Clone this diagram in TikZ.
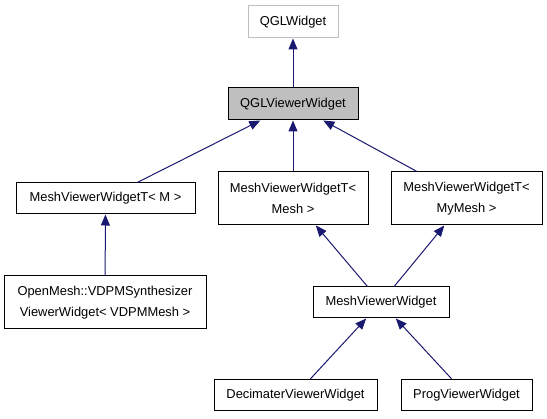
\documentclass[tikz,border=0pt]{standalone}
\usepackage{fontspec}
\setmainfont{Liberation Sans}
\usetikzlibrary{arrows.meta}
\definecolor{edgeblue}{HTML}{191970}
\definecolor{boxgray}{HTML}{BFBFBF}
\tikzset{
  cls/.style={draw=black, fill=white, line width=1pt, inner sep=0pt, align=center,
    font=\fontsize{12.9}{21}\selectfont},
  edge/.style={draw=edgeblue, line width=1pt, -{Triangle[length=11pt,width=9pt]}},
}
\begin{document}
\begin{tikzpicture}[x=1pt,y=-1pt]
\useasboundingbox (0,0) rectangle (547,419);
\node[cls, draw=boxgray, minimum width=90pt, minimum height=32pt] (qgl) at (293,22) {QGLWidget};
\node[cls, fill=boxgray, minimum width=130pt, minimum height=32pt] (qglv) at (293,104) {QGLViewerWidget};
\node[cls, minimum width=179pt, minimum height=31pt] (mvtm) at (105.5,198.5) {MeshViewerWidgetT< M >};
\node[cls, minimum width=150pt, minimum height=53pt] (mvtmesh) at (293,198.5) {MeshViewerWidgetT<\\Mesh >};
\node[cls, minimum width=151pt, minimum height=53pt] (mvtmy) at (466.5,198.5) {MeshViewerWidgetT<\\MyMesh >};
\node[cls, minimum width=202pt, minimum height=53pt] (vdpm) at (105,302.5) {OpenMesh::VDPMSynthesizer\\ViewerWidget< VDPMMesh >};
\node[cls, minimum width=136pt, minimum height=31pt] (mvw) at (381,302.5) {MeshViewerWidget};
\node[cls, minimum width=163pt, minimum height=31pt] (dec) at (295.5,395) {DecimaterViewerWidget};
\node[cls, minimum width=131pt, minimum height=31pt] (prog) at (466.5,395) {ProgViewerWidget};
\draw[edge] (qglv) -- (qgl);
\draw[edge] (mvtm) -- (qglv);
\draw[edge] (mvtmesh) -- (qglv);
\draw[edge] (mvtmy) -- (qglv);
\draw[edge] (vdpm) -- (mvtm);
\draw[edge] (mvw) -- (mvtmesh);
\draw[edge] (mvw) -- (mvtmy);
\draw[edge] (dec) -- (mvw);
\draw[edge] (prog) -- (mvw);
\end{tikzpicture}
\end{document}
